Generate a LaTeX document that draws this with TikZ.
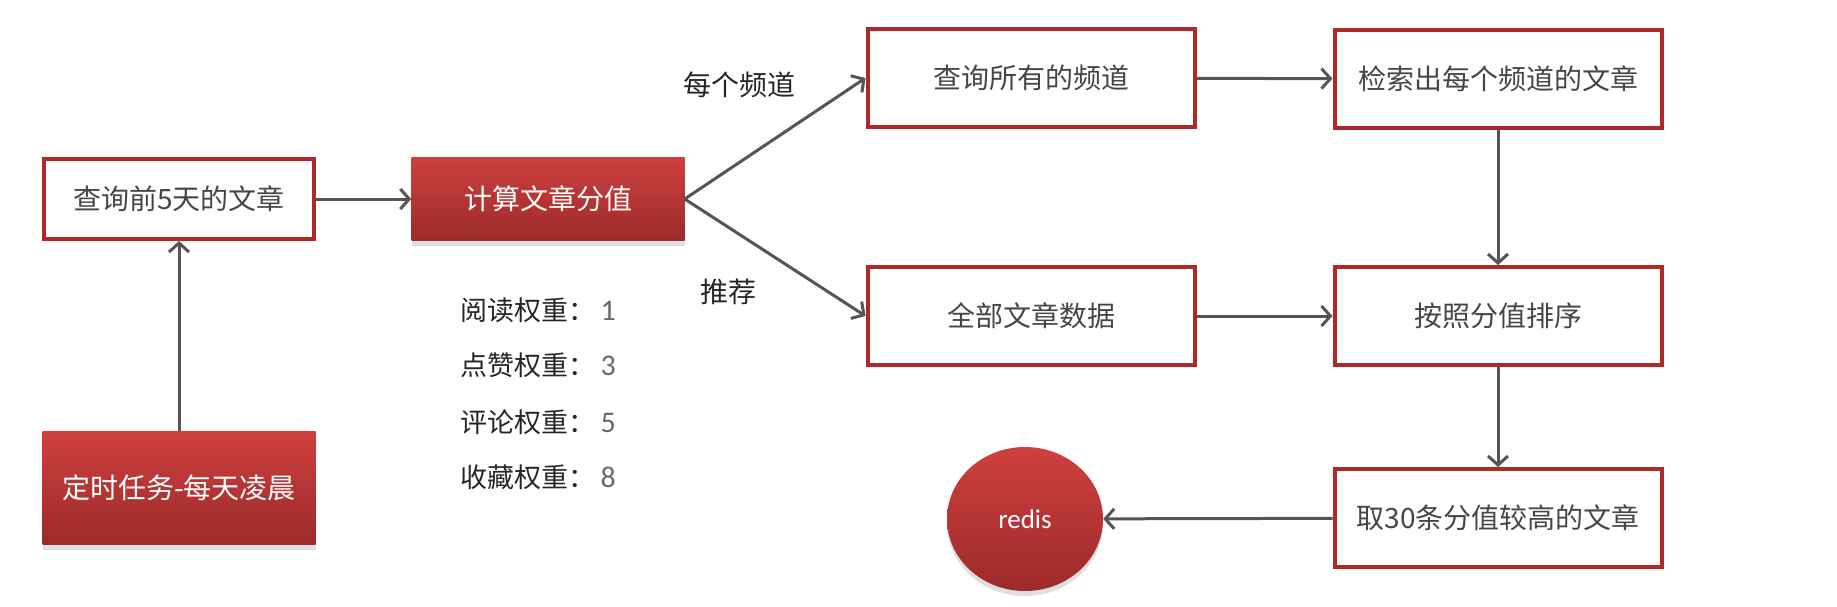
\documentclass[tikz,border=0pt]{standalone}
\usepackage{fontspec}
\setmainfont{Noto Sans CJK SC}
\newfontfamily\latinfont{Carlito}
\usepackage{tikz}
\usetikzlibrary{arrows.meta, positioning, shapes.geometric, shadows}
\definecolor{boxred}{RGB}{176,40,40}
\definecolor{redtop}{RGB}{206,64,62}
\definecolor{redbot}{RGB}{156,42,42}
\definecolor{arrgray}{RGB}{85,85,85}
\definecolor{txtgray}{RGB}{70,70,70}
\definecolor{numgray}{RGB}{105,105,105}
\newcommand{\wval}[1]{{\latinfont\fontsize{30}{30}\selectfont\color{numgray}\,#1}}

\begin{document}
\begin{tikzpicture}[
  x=1pt, y=-1pt,
  box/.style={rectangle, draw=boxred, line width=4pt, fill=white, text=txtgray,
              minimum width=327pt, minimum height=98pt, font=\fontsize{28}{30}\selectfont},
  redbox/.style={rectangle, top color=redtop, bottom color=redbot, text=white,
                 font=\fontsize{28}{30}\selectfont,
                 drop shadow={shadow xshift=0pt, shadow yshift=-5pt, opacity=0.25}},
  lbl/.style={text=black!85, font=\fontsize{28}{30}\selectfont},
  wlbl/.style={anchor=west, text=black!85, font=\fontsize{27}{29}\selectfont},
  arr/.style={-{Straight Barb[length=9pt, width=20pt]}, draw=arrgray, line width=3pt}
]
  \useasboundingbox (0,0) rectangle (1837,607);

  % left column
  \node[box, minimum width=270pt, minimum height=80pt] (fetch) at (179,199) {查询前5天的文章};
  \node[redbox, minimum width=273pt, minimum height=113pt] (timer) at (179,488) {定时任务-每天凌晨};
  \node[redbox, minimum width=273pt, minimum height=83pt] (score) at (548,199) {计算文章分值};

  % weights
  \node[wlbl] (w1) at (457,310) {阅读权重：\wval{1}};
  \node[wlbl] (w2) at (457,365) {点赞权重：\wval{3}};
  \node[wlbl] (w3) at (457,422) {评论权重：\wval{5}};
  \node[wlbl] (w4) at (457,477) {收藏权重：\wval{8}};

  % branches
  \node[lbl] (perchan) at (739,85) {每个频道};
  \node[lbl] (recom) at (728,292) {推荐};
  \node[box] (chan) at (1031,78) {查询所有的频道};
  \node[box] (all) at (1031,316) {全部文章数据};
  \node[box] (search) at (1498,79) {检索出每个频道的文章};
  \node[box] (sort) at (1498,316) {按照分值排序};
  \node[box] (top) at (1498,518) {取30条分值较高的文章};
  \node[ellipse, top color=redtop, bottom color=redbot, text=white,
        minimum width=156pt, minimum height=144pt, inner sep=0pt,
        font=\latinfont\fontsize{27}{29}\selectfont,
        drop shadow={shadow xshift=0pt, shadow yshift=-5pt, opacity=0.25}] (redis) at (1025,519) {redis};

  \draw[arr] (timer) -- (fetch);
  \draw[arr] (fetch) -- (score);
  \draw[arr] (score.east) -- (chan.west);
  \draw[arr] (score.east) -- (all.west);
  \draw[arr] (chan) -- (search);
  \draw[arr] (all) -- (sort);
  \draw[arr] (search) -- (sort);
  \draw[arr] (sort) -- (top);
  \draw[arr] (top) -- (redis);
\end{tikzpicture}
\end{document}
